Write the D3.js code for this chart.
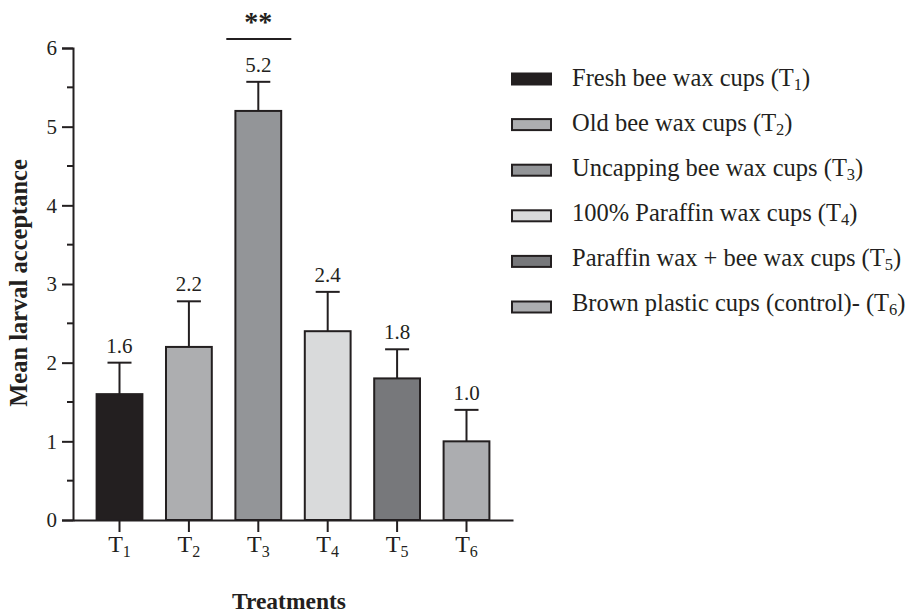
<!DOCTYPE html>
<html><head><meta charset="utf-8">
<script src="https://cdn.jsdelivr.net/npm/d3@7"></script>
<style>body{margin:0;background:#fff}svg{display:block}text{font-family:"Liberation Serif","Times New Roman",serif;fill:#231f20}</style>
</head><body><svg id="c" width="919" height="614"></svg>
<script>
const categories = ["T1","T2","T3","T4","T5","T6"];
const subs = ["1","2","3","4","5","6"];
const means = [1.6, 2.2, 5.2, 2.4, 1.8, 1.0];
const errors = [0.4, 0.58, 0.37, 0.5, 0.37, 0.4];
const valueLabels = ["1.6","2.2","5.2","2.4","1.8","1.0"];
const legendLabels = ["Fresh bee wax cups (T","Old bee wax cups (T","Uncapping bee wax cups (T","100% Paraffin wax cups (T","Paraffin wax + bee wax cups (T","Brown plastic cups (control)- (T"];
const colors = ["#231f20","#adaeb0","#939598","#d9dadb","#77787b","#acadb0"];
const yTicks = [0,1,2,3,4,5,6];
const sigLabel = "**";

const svg = d3.select("#c");
const ink = "#231f20";
const serif = "Liberation Serif";
const x = d3.scaleBand().domain(categories).range([73,513]).paddingInner(0.34).paddingOuter(0.34);
const y = d3.scaleLinear().domain([0,6]).range([520,48]);

// bars
svg.append("g").selectAll("rect").data(categories).join("rect")
  .attr("x", d=>x(d)).attr("width", x.bandwidth())
  .attr("y", (d,i)=>y(means[i])).attr("height",(d,i)=>y(0)-y(means[i]))
  .attr("fill",(d,i)=>colors[i]).attr("stroke",ink).attr("stroke-width",2);

// error bars
const eg = svg.append("g").attr("stroke",ink).attr("stroke-width",2);
categories.forEach((c,i)=>{
  const cx = x(c)+x.bandwidth()/2;
  eg.append("line").attr("x1",cx).attr("x2",cx).attr("y1",y(means[i])).attr("y2",y(means[i]+errors[i]));
  eg.append("line").attr("x1",cx-12).attr("x2",cx+12).attr("y1",y(means[i]+errors[i])).attr("y2",y(means[i]+errors[i]));
  svg.append("text").attr("x",cx).attr("y",y(means[i]+errors[i])-10).attr("text-anchor","middle")
    .style("font-family",serif).attr("font-size",21).text(valueLabels[i]);
});

// significance
const c3 = x("T3")+x.bandwidth()/2;
svg.append("line").attr("x1",c3-32).attr("x2",c3+33).attr("y1",39).attr("y2",39).attr("stroke",ink).attr("stroke-width",2);
svg.append("text").attr("x",c3).attr("y",31).attr("text-anchor","middle").style("font-family",serif)
  .attr("font-size",28).attr("font-weight","bold").text(sigLabel);

// y axis
const yAxis = svg.append("g").attr("transform","translate(73,0)")
  .call(d3.axisLeft(y).tickValues(yTicks).tickFormat(d3.format("d")).tickSize(11).tickPadding(5));
yAxis.selectAll(".domain").attr("stroke",ink).attr("stroke-width",2);
yAxis.selectAll(".tick line").attr("stroke",ink).attr("stroke-width",2);
yAxis.selectAll(".tick text").attr("font-size",21).attr("fill",ink).style("font-family",serif);
const minor = d3.range(0.5,6,1);
svg.append("g").selectAll("line").data(minor).join("line")
  .attr("x1",67).attr("x2",73).attr("y1",d=>y(d)).attr("y2",d=>y(d)).attr("stroke",ink).attr("stroke-width",2);

// x axis
const xAxis = svg.append("g").attr("transform","translate(0,520)")
  .call(d3.axisBottom(x).tickSize(12).tickSizeOuter(0).tickFormat(""));
xAxis.selectAll(".domain").attr("stroke",ink).attr("stroke-width",2);
xAxis.selectAll(".tick line").attr("stroke",ink).attr("stroke-width",2);
xAxis.selectAll(".tick").each(function(d,i){
  const t = d3.select(this).append("text").attr("y",32).attr("x",0).attr("text-anchor","middle")
    .attr("font-size",24).attr("fill",ink).style("font-family",serif);
  t.append("tspan").text("T");
  t.append("tspan").attr("font-size",16).attr("dy",5).text(subs[i]);
});

// axis titles
svg.append("text").attr("transform","translate(27,283) rotate(-90)").attr("text-anchor","middle")
  .style("font-family",serif).attr("font-size",24.5).attr("font-weight","bold").text("Mean larval acceptance");
svg.append("text").attr("x",289).attr("y",609).attr("text-anchor","middle")
  .style("font-family",serif).attr("font-size",23.5).attr("font-weight","bold").text("Treatments");

// legend
const lg = svg.append("g");
legendLabels.forEach((l,i)=>{
  const cy = 79 + i*45.6;
  lg.append("rect").attr("x",512).attr("y",cy-5.5).attr("width",39).attr("height",11)
    .attr("fill",colors[i]).attr("stroke",ink).attr("stroke-width",2);
  const t = lg.append("text").attr("x",572).attr("y",86 + i*45).style("font-family",serif).attr("font-size",24.5);
  t.append("tspan").text(l);
  t.append("tspan").attr("font-size",16.5).attr("dy",4).text(subs[i]);
  t.append("tspan").attr("dy",-4).text(")");
});
</script></body></html>
